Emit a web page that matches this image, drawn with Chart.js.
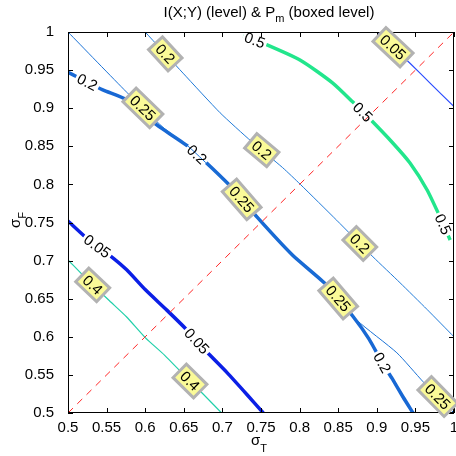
<!DOCTYPE html>
<html>
<head>
<meta charset="utf-8">
<script src="https://cdn.jsdelivr.net/npm/chart.js@4.4.1/dist/chart.umd.min.js"></script>
<style>
  html, body { margin: 0; padding: 0; background: #fff; }
</style>
</head>
<body>
<canvas id="contourChart" width="456" height="456"></canvas>
<script>
// tick values shared by both axes
const tickValues = [0.5, 0.55, 0.6, 0.65, 0.7, 0.75, 0.8, 0.85, 0.9, 0.95, 1];

// sigma_T = sigma_F reference diagonal
const diagX = [0.5, 1];
const diagY = [0.5, 1];

// I(X;Y) level lines (thick, plain labels)
const mi005X = [0.5, 0.527, 0.554, 0.576, 0.600, 0.628, 0.654, 0.680, 0.706, 0.732, 0.753];
const mi005Y = [0.752, 0.727, 0.707, 0.688, 0.662, 0.635, 0.609, 0.580, 0.553, 0.524, 0.5];
const mi02X = [0.5, 0.512, 0.545, 0.576, 0.615, 0.658, 0.714, 0.745, 0.791, 0.835, 0.869, 0.890, 0.907, 0.920, 0.934, 0.947];
const mi02Y = [0.947, 0.941, 0.924, 0.911, 0.878, 0.848, 0.794, 0.757, 0.707, 0.668, 0.627, 0.597, 0.566, 0.545, 0.521, 0.5];
const mi05X = [0.727, 0.751, 0.801, 0.843, 0.869, 0.889, 0.921, 0.943, 0.965, 0.982, 0.995];
const mi05Y = [0.995, 0.986, 0.963, 0.933, 0.908, 0.888, 0.854, 0.828, 0.793, 0.757, 0.727];

// P_m level lines (thin, boxed labels)
const pm005X = [0.900, 0.921, 0.943, 0.969, 1.0];
const pm005Y = [1.0, 0.980, 0.959, 0.933, 0.902];
const pm02X = [0.600, 0.649, 0.697, 0.738, 0.778, 0.801, 0.848, 0.895, 0.930, 0.965, 1.0];
const pm02Y = [1.0, 0.946, 0.894, 0.856, 0.822, 0.800, 0.753, 0.705, 0.671, 0.636, 0.600];
const pm025X = [0.5, 0.576, 0.623, 0.658, 0.714, 0.745, 0.791, 0.835, 0.874, 0.926, 0.960, 1.0];
const pm025Y = [1.0, 0.921, 0.875, 0.848, 0.793, 0.757, 0.707, 0.668, 0.622, 0.579, 0.541, 0.5];
const pm04X = [0.5, 0.527, 0.554, 0.576, 0.600, 0.625, 0.650, 0.675, 0.699];
const pm04Y = [0.701, 0.673, 0.647, 0.626, 0.599, 0.576, 0.550, 0.525, 0.5];

// where the level labels sit (sigma_T along each line)
const mi005LabelX = [0.538, 0.667];
const mi02LabelX = [0.525, 0.667, 0.907];
const mi05LabelX = [0.742, 0.882, 0.986];
const pm005LabelX = [0.921];
const pm02LabelX = [0.626, 0.751, 0.878];
const pm025LabelX = [0.597, 0.725, 0.850, 0.979];
const pm04LabelX = [0.532, 0.658];

const font = "'Liberation Sans', Arial, sans-serif";

// first entry is drawn on top
const contours = [
  { xs: diagX, ys: diagY, color: '#ff2626', width: 1, dash: [7, 6] },
  { xs: pm005X, ys: pm005Y, labelX: pm005LabelX, text: '0.05', boxed: true, color: '#2b4cff', width: 1.2 },
  { xs: pm02X, ys: pm02Y, labelX: pm02LabelX, text: '0.2', boxed: true, color: '#1f7ad8', width: 1 },
  { xs: pm025X, ys: pm025Y, labelX: pm025LabelX, text: '0.25', boxed: true, color: '#1a72d6', width: 1 },
  { xs: pm04X, ys: pm04Y, labelX: pm04LabelX, text: '0.4', boxed: true, color: '#22d0aa', width: 1.2 },
  { xs: mi005X, ys: mi005Y, labelX: mi005LabelX, text: '0.05', boxed: false, color: '#0b1fe6', width: 3.5 },
  { xs: mi02X, ys: mi02Y, labelX: mi02LabelX, text: '0.2', boxed: false, color: '#1868d4', width: 3.5 },
  { xs: mi05X, ys: mi05Y, labelX: mi05LabelX, text: '0.5', boxed: false, color: '#22e68c', width: 3.5 }
];

// point on a line (pixels) plus the local direction, for a label at sigma_T = xv
function labelGeometry(chart, xs, ys, xv) {
  const sx = chart.scales.x, sy = chart.scales.y;
  let i = 0;
  while (i < xs.length - 2 && xs[i + 1] < xv) i++;
  const t = (xv - xs[i]) / (xs[i + 1] - xs[i]);
  const yv = ys[i] + t * (ys[i + 1] - ys[i]);
  const x1 = sx.getPixelForValue(xs[i]), y1 = sy.getPixelForValue(ys[i]);
  const x2 = sx.getPixelForValue(xs[i + 1]), y2 = sy.getPixelForValue(ys[i + 1]);
  return { x: sx.getPixelForValue(xv), y: sy.getPixelForValue(yv), angle: Math.atan2(y2 - y1, x2 - x1) };
}

const contourLabels = {
  id: 'contourLabels',
  // cut a gap in the thick lines where their plain label goes
  beforeDatasetDraw(chart, args) {
    const ctx = chart.ctx;
    ctx.save();
    const c = contours[args.index];
    if (!c.labelX || c.boxed) return;
    ctx.font = '15px ' + font;
    const hw = ctx.measureText(c.text).width / 2 + 2, hh = 7;
    ctx.beginPath();
    ctx.rect(0, 0, chart.width, chart.height);
    c.labelX.forEach(xv => {
      const g = labelGeometry(chart, c.xs, c.ys, xv);
      const cos = Math.cos(g.angle), sin = Math.sin(g.angle);
      const pts = [[-hw, -hh], [hw, -hh], [hw, hh], [-hw, hh]]
        .map(([a, b]) => [g.x + a * cos - b * sin, g.y + a * sin + b * cos]);
      ctx.moveTo(pts[0][0], pts[0][1]);
      pts.slice(1).forEach(p => ctx.lineTo(p[0], p[1]));
      ctx.closePath();
    });
    ctx.clip('evenodd');
  },
  afterDatasetDraw(chart) {
    chart.ctx.restore();
  },
  afterDatasetsDraw(chart) {
    const ctx = chart.ctx;
    const { left, right, top, bottom } = chart.chartArea;
    const sx = chart.scales.x, sy = chart.scales.y;

    // axes box with inward ticks
    ctx.save();
    ctx.strokeStyle = '#000';
    ctx.lineWidth = 1;
    ctx.strokeRect(Math.round(left) + 0.5, Math.round(top) + 0.5, Math.round(right - left) - 1, Math.round(bottom - top) - 1);
    ctx.beginPath();
    tickValues.forEach(v => {
      const px = Math.round(sx.getPixelForValue(v)) + 0.5;
      const py = Math.round(sy.getPixelForValue(v)) + 0.5;
      ctx.moveTo(px, bottom); ctx.lineTo(px, bottom - 5);
      ctx.moveTo(px, top); ctx.lineTo(px, top + 5);
      ctx.moveTo(left, py); ctx.lineTo(left + 5, py);
      ctx.moveTo(right, py); ctx.lineTo(right - 5, py);
    });
    ctx.stroke();
    ctx.restore();

    // contour labels
    contours.forEach(c => {
      if (!c.labelX) return;
      c.labelX.forEach(xv => {
        const g = labelGeometry(chart, c.xs, c.ys, xv);
        ctx.save();
        ctx.translate(g.x, g.y);
        ctx.rotate(g.angle);
        ctx.font = '15px ' + font;
        const w = ctx.measureText(c.text).width;
        if (c.boxed) {
          ctx.fillStyle = '#fafa98';
          ctx.fillRect(-w / 2 - 4, -9.5, w + 8, 19);
          ctx.strokeStyle = '#b2b2b2';
          ctx.lineWidth = 3;
          ctx.strokeRect(-w / 2 - 4, -9.5, w + 8, 19);
        }
        ctx.fillStyle = '#000';
        ctx.textAlign = 'center';
        ctx.textBaseline = 'middle';
        ctx.fillText(c.text, 0, 1);
        ctx.restore();
      });
    });
  },
  afterDraw(chart) {
    const ctx = chart.ctx;
    ctx.save();
    ctx.fillStyle = '#000';
    ctx.textBaseline = 'alphabetic';
    ctx.textAlign = 'left';

    // title with subscript m
    const t1 = 'I(X;Y) (level) & P', t2 = 'm', t3 = ' (boxed level)';
    ctx.font = '15px ' + font;
    const w1 = ctx.measureText(t1).width, w3 = ctx.measureText(t3).width;
    ctx.font = '11px ' + font;
    const w2 = ctx.measureText(t2).width;
    let x = 269 - (w1 + w2 + w3) / 2;
    ctx.font = '15px ' + font;
    ctx.fillText(t1, x, 17);
    ctx.font = '11px ' + font;
    ctx.fillText(t2, x + w1, 22);
    ctx.font = '15px ' + font;
    ctx.fillText(t3, x + w1 + w2, 17);

    // x axis title sigma_T
    ctx.font = '15px ' + font;
    const ws = ctx.measureText('σ').width;
    ctx.font = '11px ' + font;
    const wt = ctx.measureText('T').width;
    x = 259 - (ws + wt) / 2;
    ctx.font = '15px ' + font;
    ctx.fillText('σ', x, 445);
    ctx.font = '11px ' + font;
    ctx.fillText('T', x + ws, 452);

    // y axis title sigma_F
    ctx.font = '11px ' + font;
    const wf = ctx.measureText('F').width;
    ctx.translate(20, 220);
    ctx.rotate(-Math.PI / 2);
    ctx.font = '15px ' + font;
    ctx.fillText('σ', -(ws + wf) / 2, 0);
    ctx.font = '11px ' + font;
    ctx.fillText('F', -(ws + wf) / 2 + ws, 6);
    ctx.restore();
  }
};

const axisTicks = {
  color: '#000',
  font: { family: font, size: 15 },
  autoSkip: false,
  maxRotation: 0,
  callback: v => String(+v.toFixed(2))
};

new Chart(document.getElementById('contourChart'), {
  type: 'scatter',
  data: {
    datasets: contours.map(c => ({
      data: c.xs.map((x, i) => ({ x: x, y: c.ys[i] })),
      showLine: true,
      borderColor: c.color,
      borderWidth: c.width,
      borderDash: c.dash || [],
      pointRadius: 0,
      pointHoverRadius: 0,
      tension: c.dash ? 0 : 0.2,
      fill: false
    }))
  },
  options: {
    responsive: false,
    animation: false,
    layout: { padding: { top: 32, right: 2, bottom: 13, left: 0 } },
    plugins: {
      legend: { display: false },
      tooltip: { enabled: false }
    },
    scales: {
      x: {
        type: 'linear',
        min: 0.5,
        max: 1,
        grid: { display: false },
        border: { display: false },
        ticks: Object.assign({ padding: -2 }, axisTicks),
        afterBuildTicks: s => { s.ticks = tickValues.map(v => ({ value: v })); },
        afterFit: s => { s.height = 30; s.paddingLeft = 0; s.paddingRight = 0; }
      },
      y: {
        type: 'linear',
        min: 0.5,
        max: 1,
        grid: { display: false },
        border: { display: false },
        ticks: Object.assign({ padding: 6 }, axisTicks),
        afterBuildTicks: s => { s.ticks = tickValues.map(v => ({ value: v })); },
        afterFit: s => { s.width = 68; s.paddingTop = 0; s.paddingBottom = 0; }
      }
    }
  },
  plugins: [contourLabels]
});
</script>
</body>
</html>
